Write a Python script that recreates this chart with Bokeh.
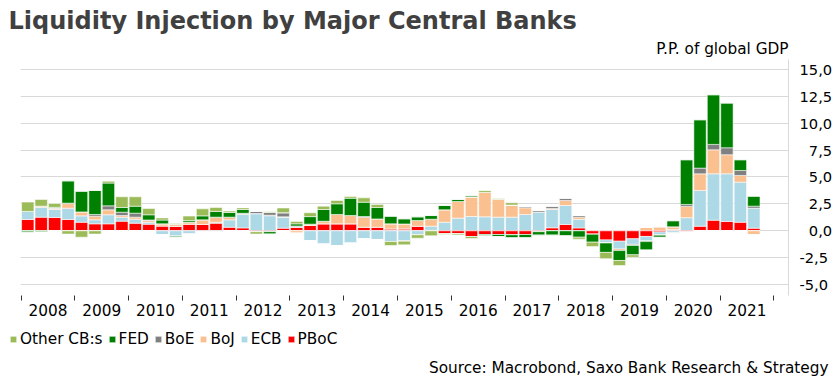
from bokeh.plotting import figure
from bokeh.layouts import column
from bokeh.models import (ColumnDataSource, FixedTicker, Range1d, Legend, LegendItem,
                          Title, Label, CustomJSTickFormatter)
from bokeh.embed import file_html
from bokeh.resources import INLINE

# ---------------- data ----------------
periods = [f"{y}Q{q}" for y in range(2008, 2022) for q in (1, 2, 3, 4)][:55]

pboc = [1.05, 1.27, 1.24, 1.05, 0.80, 0.65, 0.65, 0.90, 0.71, 0.62, 0.45, 0.42,
        0.62, 0.59, 0.71, 0.33, 0.27, -0.08, -0.08, 0.25, 0.34, 0.50, 0.65, 0.65,
        0.65, 0.34, 0.34, 0.18, 0.18, 0.43, 0.05, -0.28, -0.28, -0.53, -0.34, -0.34,
        -0.37, -0.34, -0.08, 0.28, 0.59, 0.27, -0.32, -0.84, -0.96, -0.74, -0.52, -0.10,
        0.12, -0.12, 0.43, 0.99, 0.87, 0.80, 0.25]
ecb = [0.75, 0.90, 0.74, 1.05, 0.59, 0.37, 0.84, 0.37, 0.37, 0.18, -0.37, -0.50,
       -0.25, -0.10, 0.09, 0.69, 1.28, 1.58, 1.40, 1.02, 0.03, -0.92, -1.24, -1.37,
       -1.15, -0.74, -0.80, -0.99, -0.90, -0.37, 0.38, 0.80, 1.18, 1.33, 1.30, 1.27,
       1.27, 1.52, 1.72, 1.70, 1.76, 0.80, 0.00, -0.29, -0.72, -0.52, -0.43, -0.30,
       -0.22, 1.22, 3.32, 4.30, 4.42, 3.72, 1.85]
boj = [0.00, 0.12, 0.10, 0.43, 0.37, 0.34, 0.46, 0.15, 0.19, 0.16, 0.20, 0.20,
       0.18, 0.43, 0.47, 0.22, 0.03, 0.03, 0.05, 0.03, -0.22, 0.12, 0.24, 0.87,
       0.77, 0.90, 0.77, 0.47, 0.46, 0.53, 0.65, 1.15, 1.54, 1.80, 2.26, 1.67,
       1.12, 0.62, 0.00, 0.10, 0.47, 0.20, 0.00, 0.00, -0.15, 0.00, 0.34, 0.38,
       0.25, 1.05, 1.54, 2.23, 1.77, 0.62, -0.37]
boe = [0.00, 0.00, 0.04, 0.04, 0.00, 0.16, 0.37, 0.31, 0.37, 0.05, 0.00, 0.00,
       -0.05, 0.00, -0.08, 0.03, 0.05, 0.20, 0.25, 0.37, 0.08, 0.00, 0.00, 0.00,
       0.00, 0.09, 0.00, 0.00, -0.06, 0.00, 0.00, 0.00, 0.00, 0.00, 0.00, 0.00,
       0.00, 0.12, 0.16, 0.21, 0.21, 0.15, 0.00, 0.00, 0.00, -0.10, -0.05, 0.00,
       0.00, 0.18, 0.53, 0.50, 0.65, 0.46, 0.19]
fed = [-0.12, -0.10, 0.06, 2.07, 1.92, 2.23, 2.11, 0.44, 0.65, 0.48, 0.35, -0.10,
       0.15, 0.37, 0.53, 0.43, 0.35, 0.00, -0.22, 0.02, 0.20, 0.70, 1.09, 0.99,
       1.61, 1.33, 1.06, 0.71, 0.48, 0.34, 0.34, 0.40, 0.19, 0.12, -0.12, -0.19,
       -0.28, -0.30, -0.32, -0.40, -0.46, -0.59, -0.73, -0.87, -0.92, -0.87, -0.78, -0.20,
       0.57, 4.15, 4.49, 4.61, 4.15, 1.00, 0.93]
other = [0.87, 0.62, 0.36, -0.30, -0.59, -0.30, 0.18, 0.99, 0.87, 0.58, 0.20, 0.05,
         0.42, 0.65, 0.37, 0.13, 0.15, -0.22, 0.08, 0.43, 0.22, 0.36, 0.31, 0.31,
         0.16, 0.40, 0.27, -0.37, -0.34, -0.31, -0.46, -0.06, -0.10, -0.18, 0.17, 0.06,
         0.22, 0.00, 0.00, 0.00, 0.00, -0.18, -0.41, -0.58, -0.47, -0.22, 0.00, 0.00,
         0.00, 0.00, 0.00, 0.00, 0.00, 0.00, 0.00]

series_names = ["PBoC", "ECB", "BoJ", "BoE", "FED", "Other CB:s"]   # stacking order, bottom up
series_values = [pboc, ecb, boj, boe, fed, other]
series_colors = ["#FF0000", "#ADD8E6", "#FAC090", "#808080", "#008000", "#9BBB59"]

years = list(range(2008, 2022))
year_labels = [str(y) for y in years]
y_ticks = [-5.0, -2.5, 0.0, 2.5, 5.0, 7.5, 10.0, 12.5, 15.0]

title_text = "Liquidity Injection by Major Central Banks"
unit_text = "P.P. of global GDP"
source_text = "Source: Macrobond, Saxo Bank Research & Strategy"

# ---------------- source ----------------
xs = [int(p[:4]) + (int(p[5]) - 1) / 4 + 0.125 for p in periods]
data = {"x": xs}
pos_cols, neg_cols = [], []
for i, vals in enumerate(series_values):
    data[f"s{i}_pos"] = [max(v, 0.0) for v in vals]
    data[f"s{i}_neg"] = [min(v, 0.0) for v in vals]
    pos_cols.append(f"s{i}_pos")
    neg_cols.append(f"s{i}_neg")
src = ColumnDataSource(data)

FONT = "DejaVu Sans"
FS = "15.3px"

# ---------------- main chart ----------------
p = figure(width=839, height=325, output_backend="svg", toolbar_location=None,
           x_range=Range1d(2007.99, 2022.27), y_range=Range1d(-6.0, 15.9),
           min_border_left=20, min_border_right=51, min_border_top=59, min_border_bottom=30,
           y_axis_location="right", title=None)
p.outline_line_color = None
p.background_fill_color = "white"
p.border_fill_color = "white"

bar_kw = dict(x="x", width=0.23, source=src, fill_color=series_colors,
              line_color="white", line_alpha=0.55, line_width=1)
r_pos = p.vbar_stack(pos_cols, **bar_kw)
r_neg = p.vbar_stack(neg_cols, **bar_kw)

# x axis: year labels centred, tick marks at year boundaries
xa = p.xaxis[0]
xa.ticker = FixedTicker(ticks=[y + 0.5 for y in years], minor_ticks=list(range(2008, 2023)))
xa.major_label_overrides = {y + 0.5: lab for y, lab in zip(years, year_labels)}
xa.axis_line_color = None
xa.major_tick_line_color = None
xa.major_tick_out = 0
xa.major_tick_in = 0
xa.minor_tick_line_color = "#333333"
xa.minor_tick_out = 5
xa.minor_tick_in = 0
xa.major_label_standoff = 3
xa.major_label_text_font = FONT
xa.major_label_text_font_size = FS
xa.major_label_text_color = "#000000"

# y axis on the right
ya = p.yaxis[0]
ya.ticker = FixedTicker(ticks=y_ticks)
ya.formatter = CustomJSTickFormatter(code="""
const s = tick.toFixed(1).replace('.', ',');
return (tick >= 0 && tick < 10) ? '\\u2007' + s : s;
""")
ya.axis_line_color = "#d9d9d9"
ya.major_tick_line_color = None
ya.minor_tick_line_color = None
ya.major_tick_out = 0
ya.major_tick_in = 0
ya.major_label_standoff = 11
ya.major_label_text_font = FONT
ya.major_label_text_font_size = "11pt"
ya.major_label_text_color = "#000000"

p.xgrid.visible = False
p.ygrid.ticker = FixedTicker(ticks=y_ticks)
p.ygrid.grid_line_color = "#d9d9d9"
p.ygrid.grid_line_width = 1

# titles above the plot (first added is closest to the frame)
p.add_layout(Title(text=unit_text, align="right", text_font=FONT, text_font_size=FS,
                   text_font_style="normal", text_color="#000000", standoff=3,
                   vertical_align="bottom"), "above")
p.add_layout(Title(text=title_text, align="left", offset=-12, text_font=FONT,
                   text_font_size="18pt", text_font_style="bold", text_color="#404040",
                   standoff=3, vertical_align="bottom"), "above")

# ---------------- footer: legend + source ----------------
f = figure(width=839, height=60, output_backend="svg", toolbar_location=None,
           x_range=Range1d(0, 1), y_range=Range1d(0, 1),
           x_axis_type=None, y_axis_type=None, title=None,
           min_border=0, min_border_left=0, min_border_right=0,
           min_border_top=0, min_border_bottom=0)
f.outline_line_color = None
f.background_fill_color = "white"
f.border_fill_color = "white"

for plot in (p, f):
    try:
        plot.frame_align = False
    except Exception:
        pass

# legend keys: the same series, hidden in the footer (legend shows only their keys)
key_renderers = f.vbar_stack(pos_cols, **bar_kw)
for r in key_renderers:
    r.visible = False
items = [LegendItem(label=series_names[i], renderers=[key_renderers[i]])
         for i in reversed(range(6))]
legend = Legend(items=items, orientation="horizontal", location=(9, 37),
                glyph_width=8, glyph_height=8, label_standoff=3, spacing=5,
                padding=0, margin=0, border_line_color=None, background_fill_alpha=0,
                inactive_fill_alpha=0,
                label_text_font=FONT, label_text_font_size=FS, label_height=16,
                label_text_color="#000000")
f.add_layout(legend, "center")
f.add_layout(Label(x=828, y=18, x_units="screen", y_units="screen", text=source_text,
                   text_font=FONT, text_font_size=FS, text_color="#000000",
                   text_baseline="middle", text_align="right"))

layout = column(p, f, spacing=0)
open("out.html", "w").write(file_html(layout, INLINE))
